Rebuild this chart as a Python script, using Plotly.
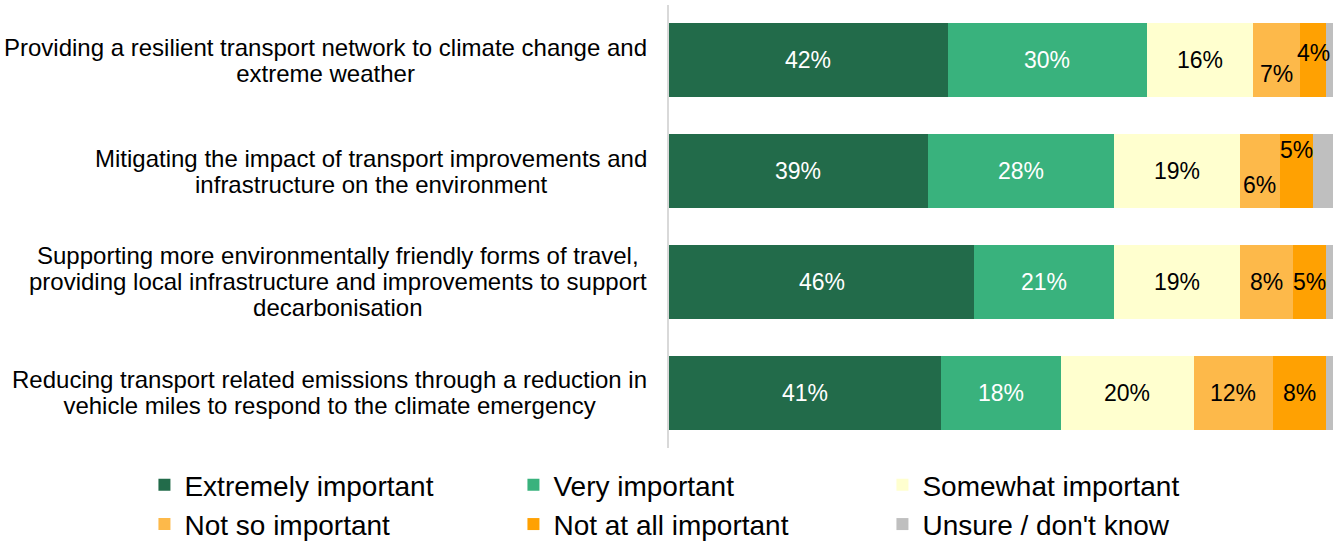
import plotly.graph_objects as go

# Survey statements (top to bottom)
categories = [
    "Providing a resilient transport network to climate change and<br>extreme weather",
    "Mitigating the impact of transport improvements and<br>infrastructure on the environment",
    "Supporting more environmentally friendly forms of travel,<br>providing local infrastructure and improvements to support<br>decarbonisation",
    "Reducing transport related emissions through a reduction in<br>vehicle miles to respond to the climate emergency",
]

series_names = [
    "Extremely important",
    "Very important",
    "Somewhat important",
    "Not so important",
    "Not at all important",
    "Unsure / don't know",
]

extremely = [42, 39, 46, 41]
very = [30, 28, 21, 18]
somewhat = [16, 19, 19, 20]
not_so = [7, 6, 8, 12]
not_at_all = [4, 5, 5, 8]
unsure = [1, 3, 1, 1]

series_values = [extremely, very, somewhat, not_so, not_at_all, unsure]
show_labels = [True, True, True, True, True, False]

colors = ["#226B4A", "#39B27D", "#FFFFCF", "#FDB94A", "#FFA102", "#BFBFBF"]
label_colors = ["white", "white", "black", "black", "black", "black"]

# vertical nudges for crowded labels: (row, series) -> pixels
label_nudge = {(0, 3): -14, (0, 4): 7, (1, 3): -14, (1, 4): 21}

FONT = "Arial, 'Liberation Sans', sans-serif"

fig = go.Figure()
for name, vals, col in zip(series_names, series_values, colors):
    fig.add_trace(go.Bar(
        name=name, y=categories, x=vals, orientation="h",
        marker=dict(color=col, line=dict(width=0)),
        hoverinfo="skip",
    ))

annotations = []
# segment value labels
for i, cat in enumerate(categories):
    left = 0
    for s, vals in enumerate(series_values):
        v = vals[i]
        if show_labels[s]:
            annotations.append(dict(
                x=left + v / 2, y=cat, xref="x", yref="y",
                text=f"{v}%", showarrow=False,
                xanchor="center", yanchor="middle",
                yshift=label_nudge.get((i, s), 0),
                font=dict(family=FONT, size=23, color=label_colors[s]),
            ))
        left += v

# category labels, centred lines in a right-aligned block
for cat in categories:
    annotations.append(dict(
        x=0, y=cat, xref="paper", yref="y",
        text=f'<span style="font-size:24px">{cat}</span>',
        showarrow=False, xanchor="right", yanchor="middle",
        xshift=-20, align="center",
        font=dict(family=FONT, size=20, color="#000000"),
    ))

fig.update_layout(
    width=1341, height=542,
    margin=dict(l=669, r=8, t=5, b=94, autoexpand=False),
    paper_bgcolor="white", plot_bgcolor="white",
    barmode="stack", bargap=0.332,
    showlegend=True,
    legend=dict(
        orientation="h", x=-0.79, xanchor="left",
        y=-0.027, yanchor="top",
        font=dict(family=FONT, size=28, color="#000000"),
        entrywidth=324, traceorder="normal",
        itemclick=False, itemdoubleclick=False,
    ),
    xaxis=dict(range=[0, 100], visible=False, fixedrange=True),
    yaxis=dict(
        autorange="reversed", showticklabels=False, ticks="",
        showline=True, linecolor="#D9D9D9", linewidth=2,
        showgrid=False, zeroline=False, fixedrange=True,
    ),
    annotations=annotations,
    font=dict(family=FONT),
)

fig.write_html("out.html", config={"displayModeBar": False})
